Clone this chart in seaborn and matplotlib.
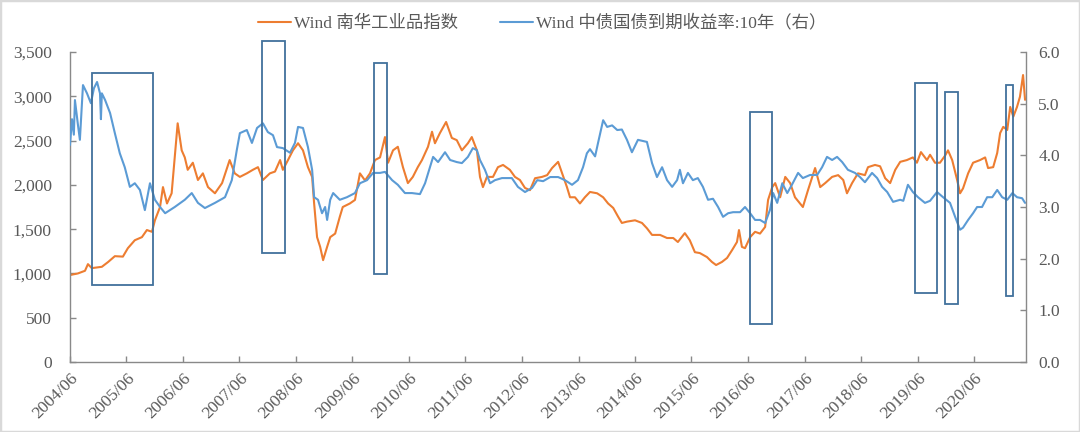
import matplotlib
matplotlib.use("Agg")
import matplotlib.pyplot as plt
import matplotlib.dates as mdates
from matplotlib.patches import Rectangle
from matplotlib.ticker import FuncFormatter
import pandas as pd
import seaborn as sns

# ---------------- data ----------------
nanhua_dates = [
    "2004-06-01", "2004-07-22", "2004-09-06", "2004-09-25", "2004-10-20", "2004-12-24",
    "2005-02-03", "2005-03-18", "2005-05-09", "2005-06-10", "2005-07-25", "2005-09-09",
    "2005-10-11", "2005-11-13", "2005-12-02", "2006-01-04", "2006-01-23", "2006-02-18",
    "2006-03-20", "2006-04-09", "2006-04-28", "2006-05-24", "2006-06-13", "2006-07-02",
    "2006-08-04", "2006-09-06", "2006-10-08", "2006-11-10", "2006-12-25", "2007-02-09",
    "2007-03-30", "2007-05-02", "2007-06-04", "2007-07-19", "2007-08-27", "2007-09-29",
    "2007-10-31", "2007-12-15", "2008-01-17", "2008-02-19", "2008-03-08", "2008-04-10",
    "2008-05-12", "2008-06-14", "2008-07-16", "2008-08-17", "2008-09-13", "2008-09-26",
    "2008-10-15", "2008-11-04", "2008-11-23", "2008-12-19", "2009-01-08", "2009-02-09",
    "2009-03-11", "2009-03-30", "2009-05-15", "2009-06-17", "2009-07-19", "2009-08-21",
    "2009-09-22", "2009-10-24", "2009-11-26", "2009-12-28", "2010-01-17", "2010-02-18",
    "2010-03-21", "2010-04-23", "2010-05-25", "2010-06-26", "2010-07-28", "2010-08-24",
    "2010-10-02", "2010-10-28", "2010-11-16", "2010-12-18", "2011-01-27", "2011-03-05",
    "2011-04-06", "2011-05-09", "2011-06-17", "2011-07-12", "2011-08-14", "2011-09-03",
    "2011-09-22", "2011-10-18", "2011-11-26", "2011-12-28", "2012-01-30", "2012-03-14",
    "2012-04-16", "2012-05-18", "2012-06-20", "2012-07-22", "2012-08-24", "2012-10-08",
    "2012-11-10", "2012-12-12", "2013-01-20", "2013-02-15", "2013-03-18", "2013-04-07",
    "2013-05-09", "2013-06-10", "2013-07-12", "2013-08-14", "2013-09-29", "2013-11-07",
    "2013-12-09", "2014-01-11", "2014-02-12", "2014-03-08", "2014-04-10", "2014-06-01",
    "2014-07-16", "2014-08-17", "2014-09-19", "2014-11-10", "2014-12-25", "2015-02-03",
    "2015-03-05", "2015-04-19", "2015-05-21", "2015-06-23", "2015-07-25", "2015-09-09",
    "2015-10-11", "2015-11-07", "2015-12-15", "2016-01-17", "2016-02-19", "2016-03-21",
    "2016-04-03", "2016-04-22", "2016-05-12", "2016-06-14", "2016-07-16", "2016-08-17",
    "2016-09-19", "2016-10-08", "2016-11-04", "2016-11-23", "2016-12-25", "2017-01-27",
    "2017-02-28", "2017-03-31", "2017-05-02", "2017-05-21", "2017-06-23", "2017-08-08",
    "2017-09-10", "2017-10-12", "2017-11-26", "2018-01-04", "2018-02-06", "2018-03-02",
    "2018-04-04", "2018-05-12", "2018-06-26", "2018-07-16", "2018-08-30", "2018-10-02",
    "2018-11-04", "2018-12-06", "2019-01-08", "2019-02-09", "2019-03-24", "2019-05-02",
    "2019-05-28", "2019-06-23", "2019-08-01", "2019-08-21", "2019-09-22", "2019-10-24",
    "2019-11-26", "2019-12-15", "2020-01-11", "2020-02-12", "2020-03-02", "2020-03-21",
    "2020-04-23", "2020-05-25", "2020-07-09", "2020-08-11", "2020-08-30", "2020-10-02",
    "2020-10-28", "2020-11-16", "2020-12-06", "2021-01-01", "2021-01-20", "2021-02-09",
    "2021-03-05", "2021-03-24", "2021-04-13", "2021-04-26",
]
nanhua_values = [
    982, 1000, 1030, 1105, 1060, 1075,
    1130, 1195, 1190, 1285, 1375, 1410,
    1490, 1470, 1600, 1750, 1975, 1790,
    1905, 2310, 2695, 2390, 2310, 2170,
    2250, 2055, 2130, 1975, 1905, 2020,
    2280, 2130, 2090, 2130, 2170, 2200,
    2055, 2130, 2150, 2280, 2170, 2280,
    2390, 2470, 2390, 2200, 2090, 1790,
    1410, 1300, 1150, 1300, 1410, 1450,
    1640, 1750, 1790, 1830, 2130, 2050,
    2130, 2280, 2310, 2540, 2250, 2390,
    2430, 2200, 2020, 2090, 2200, 2280,
    2430, 2600, 2470, 2585, 2710, 2530,
    2505, 2390, 2470, 2540, 2390, 2090,
    1975, 2090, 2090, 2200, 2225, 2170,
    2090, 2055, 1965, 1940, 2075, 2090,
    2110, 2190, 2260, 2130, 1975, 1860,
    1860, 1790, 1860, 1920, 1905, 1860,
    1790, 1740, 1640, 1570, 1585, 1600,
    1570, 1510, 1435, 1435, 1400, 1400,
    1355, 1455, 1375, 1240, 1230, 1185,
    1130, 1095, 1130, 1175, 1265, 1355,
    1490, 1300, 1285, 1410, 1470, 1450,
    1525, 1830, 1975, 2020, 1860, 2090,
    2020, 1860, 1790, 1750, 1940, 2190,
    1975, 2020, 2090, 2110, 2055, 1905,
    2020, 2130, 2110, 2200, 2225, 2210,
    2075, 2020, 2170, 2260, 2280, 2310,
    2250, 2370, 2280, 2340, 2250, 2250,
    2330, 2390, 2280, 2055, 1905, 1960,
    2130, 2250, 2280, 2310, 2190, 2200,
    2360, 2585, 2655, 2620, 2880, 2770,
    2880, 2995, 3240, 2960,
]

yield_dates = [
    "2004-06-01", "2004-06-14", "2004-06-26", "2004-07-03", "2004-07-22", "2004-08-04",
    "2004-08-24", "2004-09-19", "2004-10-14", "2004-11-03", "2004-11-23", "2004-12-12",
    "2004-12-18", "2004-12-24", "2005-01-14", "2005-02-15", "2005-03-18", "2005-04-19",
    "2005-05-21", "2005-06-23", "2005-07-25", "2005-08-27", "2005-09-28", "2005-10-31",
    "2005-12-02", "2006-01-04", "2006-02-06", "2006-04-09", "2006-06-13", "2006-07-28",
    "2006-09-06", "2006-10-21", "2006-12-25", "2007-02-28", "2007-04-13", "2007-05-15",
    "2007-06-04", "2007-07-19", "2007-08-21", "2007-09-23", "2007-10-31", "2007-12-02",
    "2008-01-04", "2008-01-30", "2008-03-08", "2008-04-23", "2008-05-25", "2008-06-14",
    "2008-07-16", "2008-08-17", "2008-09-13", "2008-09-26", "2008-10-21", "2008-11-16",
    "2008-12-06", "2008-12-19", "2009-01-08", "2009-01-27", "2009-03-11", "2009-04-26",
    "2009-06-17", "2009-07-19", "2009-09-03", "2009-10-12", "2009-11-26", "2009-12-28",
    "2010-02-12", "2010-03-21", "2010-05-06", "2010-06-20", "2010-08-11", "2010-09-13",
    "2010-10-15", "2010-11-04", "2010-12-06", "2011-01-20", "2011-02-22", "2011-04-06",
    "2011-05-09", "2011-06-17", "2011-07-19", "2011-08-14", "2011-09-03", "2011-10-05",
    "2011-11-07", "2011-12-09", "2012-01-23", "2012-03-27", "2012-05-05", "2012-06-20",
    "2012-08-05", "2012-09-07", "2012-10-15", "2012-11-30", "2013-01-20", "2013-03-05",
    "2013-04-20", "2013-05-28", "2013-06-30", "2013-07-25", "2013-08-14", "2013-09-16",
    "2013-10-05", "2013-11-07", "2013-12-03", "2014-01-04", "2014-02-06", "2014-03-08",
    "2014-04-10", "2014-05-12", "2014-06-20", "2014-08-17", "2014-09-19", "2014-10-21",
    "2014-11-23", "2014-12-25", "2015-01-27", "2015-02-28", "2015-03-18", "2015-04-07",
    "2015-05-09", "2015-06-10", "2015-07-12", "2015-08-14", "2015-09-16", "2015-10-18",
    "2015-11-20", "2015-12-22", "2016-01-24", "2016-02-25", "2016-04-10", "2016-05-12",
    "2016-06-14", "2016-07-16", "2016-08-17", "2016-09-19", "2016-10-21", "2016-11-10",
    "2016-12-06", "2017-01-08", "2017-02-09", "2017-03-11", "2017-04-20", "2017-05-21",
    "2017-07-06", "2017-08-21", "2017-09-22", "2017-10-24", "2017-11-26", "2017-12-28",
    "2018-01-30", "2018-03-08", "2018-04-23", "2018-05-25", "2018-06-26", "2018-08-11",
    "2018-09-13", "2018-10-15", "2018-11-17", "2018-12-25", "2019-02-09", "2019-03-01",
    "2019-03-31", "2019-05-02", "2019-06-04", "2019-07-19", "2019-08-21", "2019-10-05",
    "2019-11-13", "2019-12-28", "2020-01-30", "2020-03-02", "2020-03-21", "2020-04-23",
    "2020-05-25", "2020-06-20", "2020-07-22", "2020-08-24", "2020-09-26", "2020-10-28",
    "2020-11-29", "2021-01-01", "2021-02-03", "2021-03-05", "2021-04-07", "2021-04-26",
]
yield_values = [
    4.20, 4.70, 4.40, 5.07, 4.60, 4.30,
    5.36, 5.20, 5.01, 5.30, 5.42, 5.20,
    4.70, 5.20, 5.07, 4.82, 4.43, 4.04,
    3.77, 3.39, 3.46, 3.33, 2.94, 3.46,
    3.14, 3.00, 2.88, 3.00, 3.14, 3.27,
    3.08, 2.98, 3.08, 3.19, 3.52, 4.10,
    4.43, 4.49, 4.24, 4.53, 4.62, 4.45,
    4.39, 4.16, 4.14, 4.05, 4.24, 4.55,
    4.53, 4.16, 3.72, 3.19, 3.14, 2.88,
    3.00, 2.75, 3.14, 3.27, 3.14, 3.19,
    3.27, 3.46, 3.52, 3.66, 3.66, 3.68,
    3.52, 3.43, 3.27, 3.27, 3.25, 3.46,
    3.77, 3.97, 3.87, 4.06, 3.91, 3.87,
    3.85, 3.97, 4.14, 4.10, 3.91, 3.72,
    3.46, 3.52, 3.56, 3.56, 3.39, 3.29,
    3.37, 3.52, 3.50, 3.58, 3.58, 3.52,
    3.43, 3.52, 3.77, 4.04, 4.12, 3.98,
    4.24, 4.68, 4.55, 4.58, 4.49, 4.50,
    4.30, 4.06, 4.30, 4.26, 3.85, 3.58,
    3.77, 3.52, 3.39, 3.52, 3.72, 3.46,
    3.66, 3.52, 3.56, 3.39, 3.14, 3.16,
    3.00, 2.81, 2.88, 2.90, 2.90, 3.00,
    2.88, 2.75, 2.75, 2.69, 2.95, 3.27,
    3.08, 3.46, 3.27, 3.43, 3.66, 3.56,
    3.62, 3.62, 3.77, 3.97, 3.91, 3.97,
    3.87, 3.72, 3.66, 3.58, 3.48, 3.66,
    3.56, 3.39, 3.29, 3.10, 3.14, 3.12,
    3.43, 3.29, 3.19, 3.08, 3.12, 3.29,
    3.19, 3.08, 2.81, 2.56, 2.60, 2.75,
    2.88, 3.00, 3.00, 3.19, 3.19, 3.33,
    3.19, 3.14, 3.27, 3.19, 3.17, 3.08,
]

# highlight boxes (dates on x, Nanhua-axis values on y)
box_start = ["2004-10-20", "2007-10-22", "2009-10-19", "2016-06-14", "2019-05-17", "2019-11-26", "2020-12-26"]
box_end   = ["2005-11-19", "2008-03-21", "2010-01-07", "2016-11-02", "2019-10-03", "2020-02-15", "2021-02-10"]
box_low   = [869, 1234, 990, 433, 775, 658, 745]
box_high  = [3263, 3624, 3379, 2826, 3153, 3044, 3130]

series_names = ["Wind 南华工业品指数", "Wind 中债国债到期收益率:10年（右）"]
left_ticks = [0, 500, 1000, 1500, 2000, 2500, 3000, 3500]
right_ticks = [0, 1, 2, 3, 4, 5, 6]

# ---------------- style ----------------
sns.set_style("white")
plt.rcParams['font.family'] = ['Liberation Serif', 'Noto Sans CJK SC', 'DejaVu Sans']
TEXT = '#595959'
SPINE = '#898989'
ORANGE = '#ED7D31'
BLUE = '#5B9BD5'
BOXC = '#41719C'

df_n = pd.DataFrame({"date": pd.to_datetime(nanhua_dates), "value": nanhua_values})
df_y = pd.DataFrame({"date": pd.to_datetime(yield_dates), "value": yield_values})

fig = plt.figure(figsize=(10.8, 4.32), dpi=100)
ax = fig.add_axes([0.0648, 0.162, 0.8849, 0.7176])
ax2 = ax.twinx()

sns.lineplot(data=df_n, x="date", y="value", ax=ax, color=ORANGE, lw=1.5,
             estimator=None, label=series_names[0], legend=False)
sns.lineplot(data=df_y, x="date", y="value", ax=ax2, color=BLUE, lw=1.5,
             estimator=None, label=series_names[1], legend=False)

for s, e, lo, hi in zip(box_start, box_end, box_low, box_high):
    x0 = mdates.date2num(pd.Timestamp(s))
    x1 = mdates.date2num(pd.Timestamp(e))
    ax2.add_patch(Rectangle((x0, lo * 6 / 3500), x1 - x0, (hi - lo) * 6 / 3500,
                            fill=False, edgecolor=BOXC, lw=1.3, clip_on=False, zorder=5))

ax.set_xlim(pd.Timestamp("2004-06-01"), pd.Timestamp("2021-04-30"))
ax.set_ylim(0, 3500)
ax2.set_ylim(0, 6)
ax.set_yticks(left_ticks)
ax2.set_yticks(right_ticks)
ax.yaxis.set_major_formatter(FuncFormatter(lambda v, p: f"{int(v):,}"))
ax2.yaxis.set_major_formatter(FuncFormatter(lambda v, p: f"{v:.1f}"))
ax.xaxis.set_major_locator(mdates.MonthLocator(bymonth=6, bymonthday=1))
ax.xaxis.set_major_formatter(mdates.DateFormatter("%Y/%m"))

for a in (ax, ax2):
    a.set_xlabel("")
    a.set_ylabel("")
    a.grid(False)
    a.spines["top"].set_visible(False)
    for side in ("left", "right", "bottom"):
        a.spines[side].set_color(SPINE)
        a.spines[side].set_linewidth(1.0)

ax.spines["right"].set_visible(False)
ax2.spines["left"].set_visible(False)
ax2.spines["bottom"].set_visible(False)

ax.tick_params(axis='y', direction='in', length=4, width=1, color=SPINE,
               labelsize=12.5, labelcolor=TEXT, pad=13, left=True)
ax.tick_params(axis='x', direction='in', length=4, width=1, color=SPINE,
               labelsize=12.5, labelcolor=TEXT, pad=6, bottom=True)
ax2.tick_params(axis='y', direction='in', length=4, width=1, color=SPINE,
                labelsize=12.5, labelcolor=TEXT, pad=9, right=True)
for lab in ax.get_xticklabels():
    lab.set_rotation(45)
    lab.set_ha('right')
    lab.set_va('top')
    lab.set_rotation_mode('anchor')

handles = ax.get_lines()[:1] + ax2.get_lines()[:1]
leg = fig.legend(handles, series_names, loc='center', bbox_to_anchor=(0.502, 0.946),
                 ncol=2, frameon=False, fontsize=12.5, handlelength=1.9,
                 columnspacing=2.4, handletextpad=0.2)
for t in leg.get_texts():
    t.set_color(TEXT)

fig.patches.append(Rectangle((0, 0), 1, 1, transform=fig.transFigure, fill=False,
                             edgecolor='#D9D9D9', lw=2.5))

fig.savefig("out.png", dpi=100, facecolor='white')
